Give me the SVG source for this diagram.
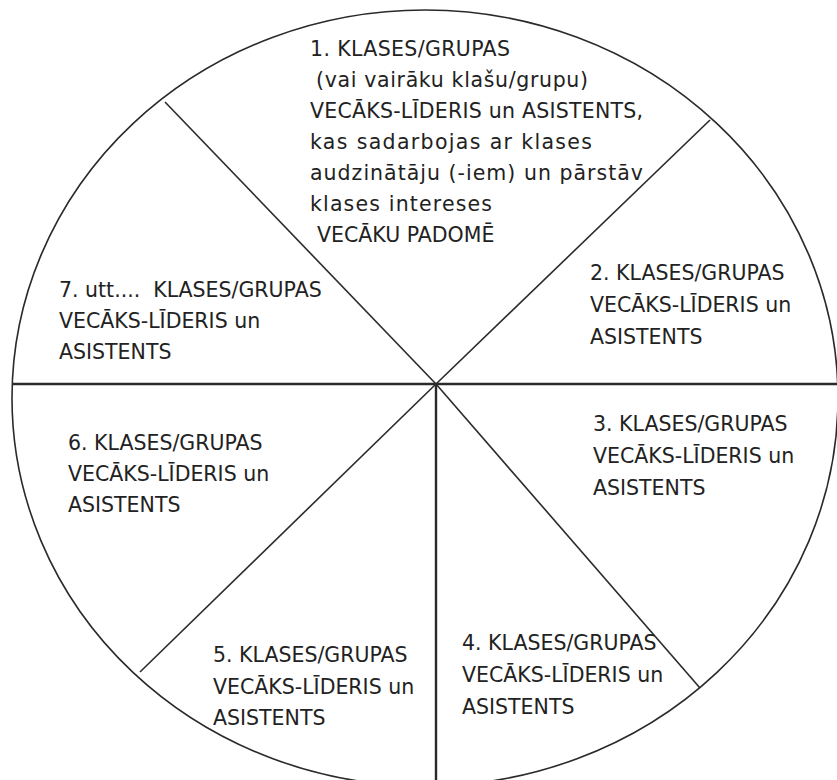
<svg xmlns="http://www.w3.org/2000/svg" width="837" height="780" viewBox="0 0 837 780">
<style>
.t{font-family:"DejaVu Sans","Liberation Sans",Arial,sans-serif;font-size:20.5px;fill:#222222}
.rim{fill:none;stroke:#2a2a2a;stroke-width:1.6}
.ln{stroke:#2a2a2a;stroke-width:1.6;fill:none}
.thick{stroke:#2a2a2a;stroke-width:2.4;fill:none}
</style>
<rect width="837" height="780" fill="#ffffff"/>
<g id="circle"><ellipse class="rim" cx="425" cy="398" rx="413" ry="388"/></g>
<g id="connectors">
<line class="thick" x1="12" y1="384" x2="837" y2="384"/>
<line class="thick" x1="436" y1="384" x2="436" y2="780"/>
<line class="ln" x1="436" y1="384" x2="165" y2="102"/>
<line class="ln" x1="436" y1="384" x2="710" y2="120"/>
<line class="ln" x1="436" y1="384" x2="700" y2="688"/>
<line class="ln" x1="436" y1="384" x2="140" y2="672"/>
</g>
<g id="node1">
<text class="t" x="310" y="56" textLength="200">1. KLASES/GRUPAS</text>
<text class="t" x="316" y="87" textLength="272">(vai vairāku klašu/grupu)</text>
<text class="t" x="310" y="118" textLength="333">VECĀKS-LĪDERIS un ASISTENTS,</text>
<text class="t" x="310" y="149" textLength="282">kas sadarbojas ar klases</text>
<text class="t" x="310" y="180" textLength="333">audzinātāju (-iem) un pārstāv</text>
<text class="t" x="310" y="211" textLength="182">klases intereses</text>
<text class="t" x="317" y="242">VECĀKU PADOMĒ</text>
</g>
<g id="node2">
<text class="t" x="590" y="280">2. KLASES/GRUPAS</text>
<text class="t" x="590" y="312">VECĀKS-LĪDERIS un</text>
<text class="t" x="590" y="344">ASISTENTS</text>
</g>
<g id="node3">
<text class="t" x="593" y="431">3. KLASES/GRUPAS</text>
<text class="t" x="593" y="463">VECĀKS-LĪDERIS un</text>
<text class="t" x="593" y="495">ASISTENTS</text>
</g>
<g id="node4">
<text class="t" x="462" y="650">4. KLASES/GRUPAS</text>
<text class="t" x="462" y="682">VECĀKS-LĪDERIS un</text>
<text class="t" x="462" y="714">ASISTENTS</text>
</g>
<g id="node5">
<text class="t" x="213" y="662">5. KLASES/GRUPAS</text>
<text class="t" x="213" y="694">VECĀKS-LĪDERIS un</text>
<text class="t" x="213" y="725">ASISTENTS</text>
</g>
<g id="node6">
<text class="t" x="68" y="450">6. KLASES/GRUPAS</text>
<text class="t" x="68" y="481">VECĀKS-LĪDERIS un</text>
<text class="t" x="68" y="512">ASISTENTS</text>
</g>
<g id="node7">
<text class="t" x="59" y="297" xml:space="preserve">7. utt....  KLASES/GRUPAS</text>
<text class="t" x="59" y="328">VECĀKS-LĪDERIS un</text>
<text class="t" x="59" y="359">ASISTENTS</text>
</g>
</svg>
